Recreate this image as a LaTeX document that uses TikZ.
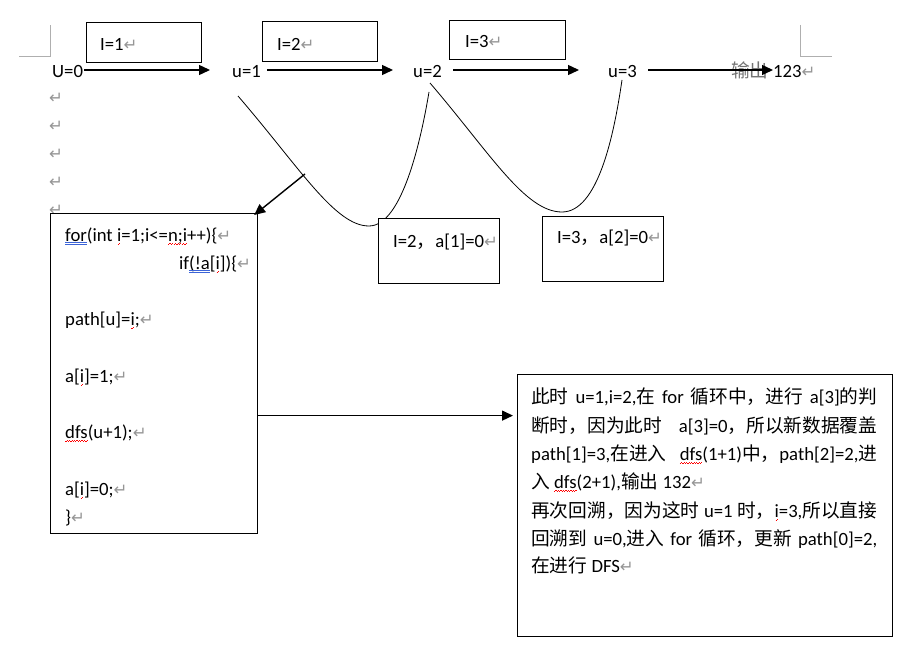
\documentclass[tikz,border=0pt]{standalone}
\usepackage{fontspec}
\setmainfont{Carlito}
\newfontfamily\cjk{Noto Sans CJK SC}
\newfontfamily\dvs{DejaVu Sans}
\usetikzlibrary{arrows.meta}
\XeTeXlinebreaklocale "zh"
\XeTeXlinebreakskip=0pt plus 1pt
\definecolor{retgray}{RGB}{150,150,150}
\definecolor{crnrgray}{RGB}{175,175,175}
\definecolor{bluul}{RGB}{60,100,215}
\newsavebox\ulbox
\newcommand\zh[1]{{\cjk #1}}
\newcommand\rt{{\dvs\fontsize{16.5}{16}\selectfont\color{retgray}↵}}
\newcommand\rwv[1]{\sbox\ulbox{#1}\rlap{\usebox\ulbox}\hbox to \wd\ulbox{\color{red}\xleaders\hbox{\lower3.4pt\hbox{\rule{1.2pt}{0.6pt}}\lower2.3pt\hbox{\rule{1.2pt}{0.6pt}}}\hfill}}
\newcommand\bdl[1]{\sbox\ulbox{#1}\rlap{\usebox\ulbox}{\color{bluul}\rlap{\raisebox{-1.6pt}{\rule{\wd\ulbox}{0.7pt}}}\raisebox{-3.9pt}{\rule{\wd\ulbox}{0.7pt}}}}
\begin{document}
\begin{tikzpicture}[x=1pt,y=-1pt,
  txt/.style={inner sep=0pt, anchor=base west, font=\fontsize{18.7}{22}\selectfont},
  ret/.style={inner sep=0pt},
  box/.style={draw=black, line width=1.2pt, fill=white, inner sep=0pt, anchor=north west},
  arr/.style={line width=1.4pt, -{Triangle[length=11pt,width=10pt]}},
  crv/.style={line width=0.8pt},
  crnr/.style={draw=crnrgray, line width=0.9pt}]
\useasboundingbox[fill=white] (0,0) rectangle (915,650);

% page corner marks
\draw[crnr] (19,56) -- (50.5,56) -- (50.5,25);
\draw[crnr] (800,25) -- (800,56) -- (832,56);

% paragraph marks in margin
\node[ret] (r1) at (56,98) {\rt};
\node[ret] (r2) at (56,126) {\rt};
\node[ret] (r3) at (56,154) {\rt};
\node[ret] (r4) at (56,182) {\rt};
\node[ret] (r5) at (56,210) {\rt};

% curves
\coordinate (c1s) at (238,96);
\coordinate (c1m) at (369,226);
\coordinate (c1e) at (429,92);
\coordinate (c2s) at (430,83);
\coordinate (c2m) at (562,212);
\coordinate (c2e) at (622,80);
\draw[crv] (c1s) .. controls (300,168) and (335,226) .. (c1m) .. controls (402,226) and (421,140) .. (c1e);
\draw[crv] (c2s) .. controls (490,153) and (525,212) .. (c2m) .. controls (598,212) and (614,135) .. (c2e);
\coordinate (cv) at (305,174);

% boxes
\node[box, minimum width=115, minimum height=40] (b1) at (86,22) {};
\node[box, minimum width=115, minimum height=40] (b2) at (262,21) {};
\node[box, minimum width=116, minimum height=39] (b3) at (449,20) {};
\node[box, minimum width=207, minimum height=320] (code) at (50,213) {};
\node[box, minimum width=121, minimum height=65] (bx2) at (378,218) {};
\node[box, minimum width=121, minimum height=65] (bx3) at (542,216) {};
\node[box, minimum width=375, minimum height=262] (big) at (517,374) {};

% top row
\node[txt] (t1) at (100,50.5) {I=1\rt};
\node[txt] (t2) at (277,50.5) {I=2\rt};
\node[txt] (t3) at (465,47.5) {I=3\rt};
\node[txt] (u0) at (52,77.5) {U=0};
\node[txt] (u1) at (232,77.5) {u=1};
\node[txt] (u2) at (413,77.5) {u=2};
\node[txt] (u3) at (608,77.5) {u=3};
\node[txt, text=black!55] (outl) at (731,77.5) {\zh{输出}};
\node[txt] (num) at (773,77.5) {123\rt};

% small boxes text
\node[txt] (s2) at (393,247) {I=2\zh{，}a[1]=0\rt};
\node[txt] (s3) at (557,243) {I=3\zh{，}a[2]=0\rt};

% code
\node[txt] (l1) at (65,241) {\bdl{for}(int \rwv{i}=1;i<=\rwv{n;i}++)\{\rt};
\node[txt] (l2) at (179,269) {if\bdl{(!a}[\rwv{i}])\{\rt};
\node[txt] (l3) at (65,325) {path[u]=\rwv{i};\rt};
\node[txt] (l4) at (65,382) {a[\rwv{i}]=1;\rt};
\node[txt] (l5) at (65,438) {\rwv{dfs}(u+1);\rt};
\node[txt] (l6) at (65,495) {a[\rwv{i}]=0;\rt};
\node[txt] (l7) at (65,523) {\}\rt};

% explanation
\node[txt] (p1) at (531,403) {\makebox[346pt][s]{\zh{此时} u=1,i=2,\zh{在} for \zh{循环中，进行} a[3]\zh{的判}}};
\node[txt] (p2) at (531,432) {\makebox[346pt][s]{\zh{断时，因为此时} a[3]=0\zh{，所以新数据覆盖}}};
\node[txt] (p3) at (531,460) {\makebox[346pt][s]{path[1]=3,\zh{在进入} \rwv{dfs}(1+1)\zh{中，}path[2]=2,\zh{进}}};
\node[txt] (p4) at (531,488) {\zh{入} \rwv{dfs}(2+1),\zh{输出} 132\rt};
\node[txt] (p5) at (531,517) {\makebox[346pt][s]{\zh{再次回溯，因为这时} u=1 \zh{时，}\rwv{i}=3,\zh{所以直接}}};
\node[txt] (p6) at (531,545) {\makebox[346pt][s]{\zh{回溯到} u=0,\zh{进入} for \zh{循环，更新} path[0]=2,}};
\node[txt] (p7) at (531,572) {\zh{在进行} DFS\rt};

% arrows
\draw[arr, shorten <=1.2pt, shorten >=22pt] ([yshift=7.5pt]u0.base east) -- ([yshift=7.5pt]u1.base west);
\draw[arr, shorten <=6.4pt, shorten >=20pt] ([yshift=7.5pt]u1.base east) -- ([yshift=7.5pt]u2.base west);
\draw[arr, shorten <=11.4pt, shorten >=29pt] ([yshift=7.5pt]u2.base east) -- ([yshift=7.5pt]u3.base west);
\draw[arr, shorten <=11.4pt] ([yshift=7.5pt]u3.base east) -- ([yshift=7.5pt]num.base west);
\draw[arr] (cv) -- ([xshift=-4pt,yshift=-2pt]code.north east);
\coordinate (ca) at ([yshift=-42pt]code.east);
\draw[arr, shorten >=4pt] (ca) -- (ca -| big.west);
\end{tikzpicture}
\end{document}
